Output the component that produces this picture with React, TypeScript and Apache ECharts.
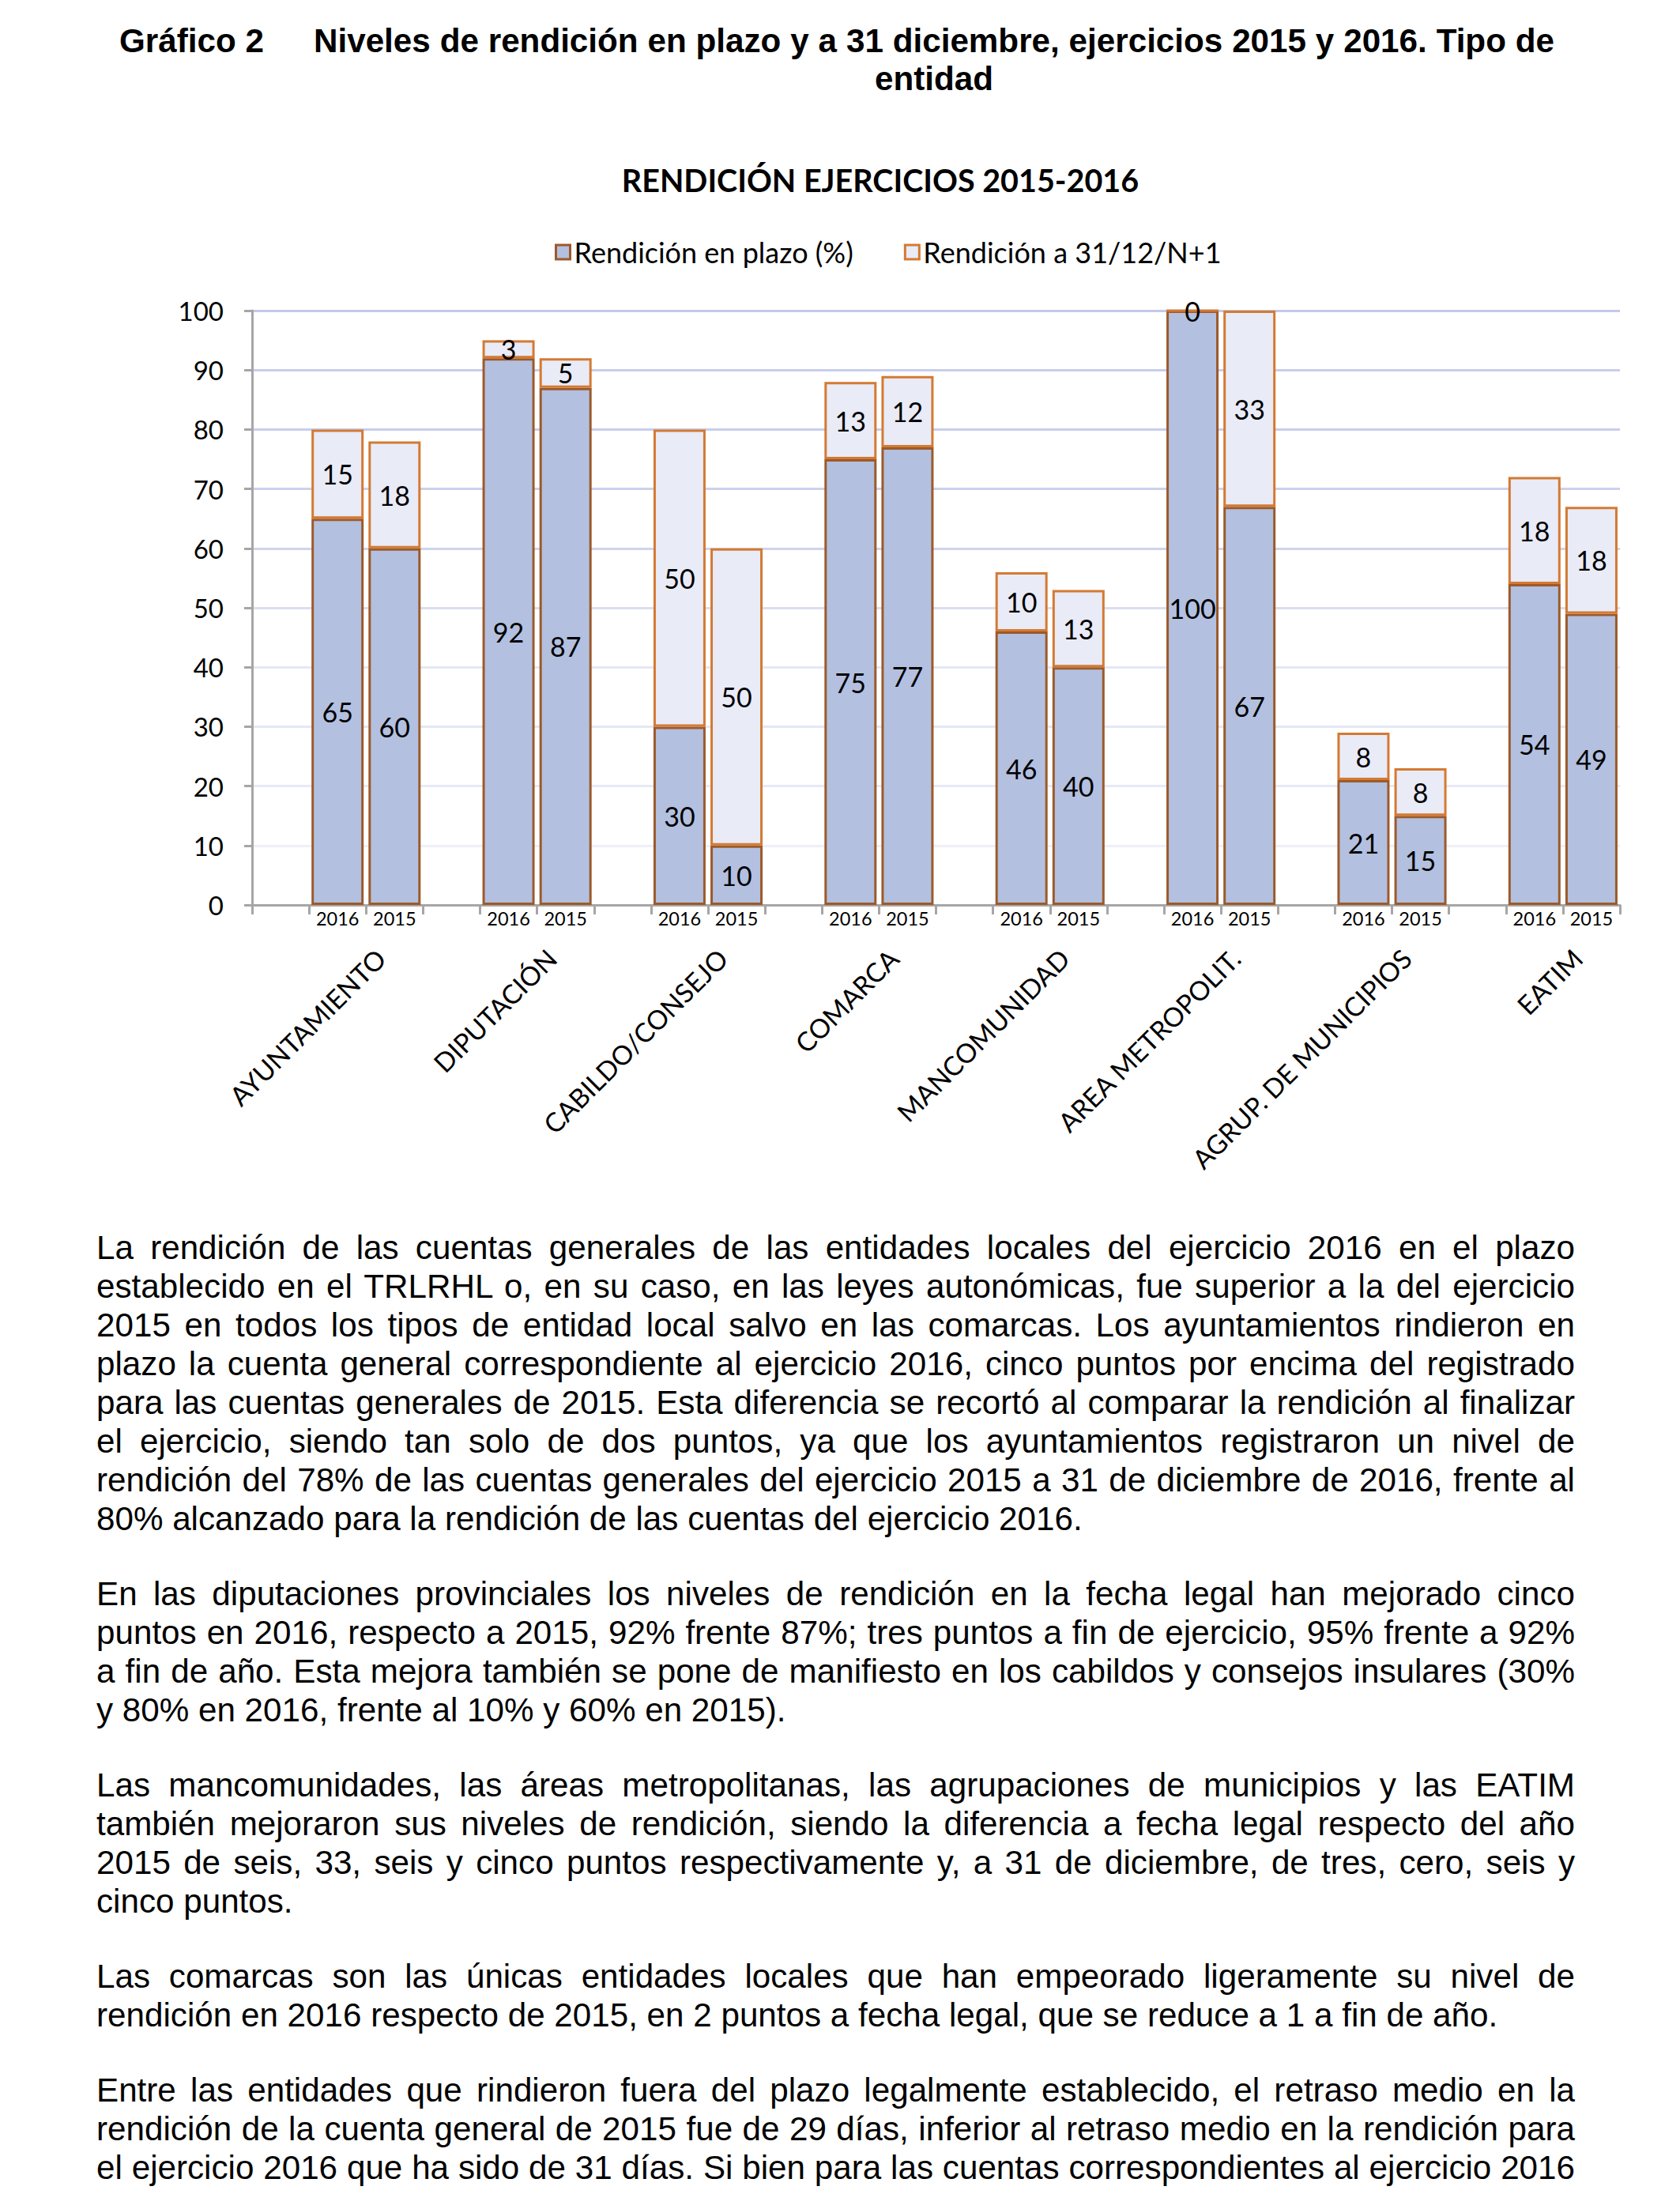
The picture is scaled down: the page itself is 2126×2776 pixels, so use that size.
import React, { useEffect, useRef } from "react";
import * as echarts from "echarts";

// ---------- data ----------
const categories = [
  "AYUNTAMIENTO",
  "DIPUTACIÓN",
  "CABILDO/CONSEJO",
  "COMARCA",
  "MANCOMUNIDAD",
  "AREA METROPOLIT.",
  "AGRUP. DE MUNICIPIOS",
  "EATIM",
];
const years = ["2016", "2015"];
const plazo2016 = [65, 92, 30, 75, 46, 100, 21, 54];
const plazo2015 = [60, 87, 10, 77, 40, 67, 15, 49];
const extra2016 = [15, 3, 50, 13, 10, 0, 8, 18];
const extra2015 = [18, 5, 50, 12, 13, 33, 8, 18];
const seriesNames = ["Rendición en plazo (%)", "Rendición a 31/12/N+1"];
const chartTitle = "RENDICIÓN EJERCICIOS 2015-2016";
const yMin = 0;
const yMax = 100;
const yStep = 10;

// ---------- page text ----------
const headLabel = "Gráfico 2";
const headLine1 =
  "Niveles de rendición en plazo y a 31 diciembre, ejercicios 2015 y 2016. Tipo de";
const headLine2 = "entidad";

const paragraphs: { lines: string[]; continues?: boolean }[] = [
  {
    lines: [
      "La rendición de las cuentas generales de las entidades locales del ejercicio 2016 en el plazo",
      "establecido en el TRLRHL o, en su caso, en las leyes autonómicas, fue superior a la del ejercicio",
      "2015 en todos los tipos de entidad local salvo en las comarcas. Los ayuntamientos rindieron en",
      "plazo la cuenta general correspondiente al ejercicio 2016, cinco puntos por encima del registrado",
      "para las cuentas generales de 2015. Esta diferencia se recortó al comparar la rendición al finalizar",
      "el ejercicio, siendo tan solo de dos puntos, ya que los ayuntamientos registraron un nivel de",
      "rendición del 78% de las cuentas generales del ejercicio 2015 a 31 de diciembre de 2016, frente al",
      "80% alcanzado para la rendición de las cuentas del ejercicio 2016.",
    ],
  },
  {
    lines: [
      "En las diputaciones provinciales los niveles de rendición en la fecha legal han mejorado cinco",
      "puntos en 2016, respecto a 2015, 92% frente 87%; tres puntos a fin de ejercicio, 95% frente a 92%",
      "a fin de año. Esta mejora también se pone de manifiesto en los cabildos y consejos insulares (30%",
      "y 80% en 2016, frente al 10% y 60% en 2015).",
    ],
  },
  {
    lines: [
      "Las mancomunidades, las áreas metropolitanas, las agrupaciones de municipios y las EATIM",
      "también mejoraron sus niveles de rendición, siendo la diferencia a fecha legal respecto del año",
      "2015 de seis, 33, seis y cinco puntos respectivamente y, a 31 de diciembre, de tres, cero, seis y",
      "cinco puntos.",
    ],
  },
  {
    lines: [
      "Las comarcas son las únicas entidades locales que han empeorado ligeramente su nivel de",
      "rendición en 2016 respecto de 2015, en 2 puntos a fecha legal, que se reduce a 1 a fin de año.",
    ],
  },
  {
    lines: [
      "Entre las entidades que rindieron fuera del plazo legalmente establecido, el retraso medio en la",
      "rendición de la cuenta general de 2015 fue de 29 días, inferior al retraso medio en la rendición para",
      "el ejercicio 2016 que ha sido de 31 días. Si bien para las cuentas correspondientes al ejercicio 2016",
    ],
    continues: true,
  },
];

// ---------- derived slot arrays (blank, 2016, 2015 per entity) ----------
const slotYears: string[] = [];
const slotGroups: string[] = [];
const slotPlazo: (number | null)[] = [];
const slotExtra: (number | null)[] = [];
categories.forEach((c, i) => {
  slotYears.push("", years[0], years[1]);
  slotGroups.push("", "", c);
  slotPlazo.push(null, plazo2016[i], plazo2015[i]);
  slotExtra.push(null, extra2016[i], extra2015[i]);
});

const CHART_H = 1520;
const chartFont = "Lato, 'Noto Sans', sans-serif";
const gridColors = [
  "#E9ECF7",
  "#EEF0F9",
  "#E7EAF6",
  "#E4E7F5",
  "#E4E7F5",
  "#DADEF1",
  "#CFD4EE",
  "#CCD1EC",
  "#C8CEEB",
  "#C8CEEB",
  "#C3C9E9",
];

function buildOption(): any {
  const labelStyle = {
    show: true,
    position: "inside",
    color: "#000",
    fontSize: 34,
    fontFamily: chartFont,
  };
  return {
    animation: false,
    backgroundColor: "transparent",
    title: {
      text: chartTitle,
      left: 1109,
      top: 202,
      textAlign: "center",
      textStyle: {
        fontFamily: chartFont,
        fontWeight: "bold",
        fontSize: 39.5,
        color: "#000",
      },
    },
    legend: {
      left: 697,
      top: 296,
      icon: "rect",
      itemWidth: 18,
      itemHeight: 18,
      itemGap: 64,
      itemStyle: { borderWidth: 3 },
      textStyle: { fontFamily: chartFont, fontSize: 36, color: "#000" },
    },
    grid: { left: 319, right: 76, top: 393, bottom: CHART_H - 1145 },
    xAxis: [
      {
        type: "category",
        data: slotYears,
        position: "bottom",
        axisLine: { show: true, lineStyle: { color: "#A6A6A6", width: 3 } },
        axisTick: {
          show: true,
          interval: 0,
          length: 12,
          lineStyle: { color: "#A6A6A6", width: 3 },
        },
        axisLabel: {
          interval: 0,
          margin: 5,
          fontSize: 23.5,
          fontFamily: chartFont,
          color: "#000",
        },
        splitLine: { show: false },
      },
      {
        type: "category",
        data: slotGroups,
        position: "bottom",
        gridIndex: 0,
        axisLine: { show: false },
        axisTick: { show: false },
        splitLine: { show: false },
        axisLabel: {
          interval: 0,
          rotate: 45,
          margin: 44,
          padding: [0, 25, 0, 0],
          fontSize: 33.5,
          fontFamily: chartFont,
          color: "#000",
        },
      },
    ],
    yAxis: {
      type: "value",
      min: yMin,
      max: yMax,
      interval: yStep,
      axisLine: { show: true, lineStyle: { color: "#A6A6A6", width: 3 } },
      axisTick: {
        show: true,
        length: 10,
        lineStyle: { color: "#A6A6A6", width: 3 },
      },
      axisLabel: {
        margin: 36,
        fontSize: 33,
        fontFamily: chartFont,
        color: "#000",
      },
      splitLine: { show: true, lineStyle: { color: gridColors, width: 3 } },
    },
    series: [
      {
        name: seriesNames[0],
        type: "bar",
        stack: "total",
        xAxisIndex: 0,
        data: slotPlazo,
        barWidth: 66,
        itemStyle: { color: "#B3C0E0", borderColor: "#9C5A2A", borderWidth: 3 },
        label: labelStyle,
      },
      {
        name: seriesNames[1],
        type: "bar",
        stack: "total",
        xAxisIndex: 0,
        data: slotExtra,
        barWidth: 66,
        itemStyle: { color: "#E9EBF7", borderColor: "#D47A33", borderWidth: 3 },
        label: labelStyle,
      },
    ],
  };
}

const bodyFont = "'Liberation Sans', Arial, sans-serif";

export default function App() {
  const ref = useRef<HTMLDivElement>(null);
  useEffect(() => {
    if (!ref.current) return;
    const chart = echarts.init(ref.current, null, { renderer: "svg" });
    chart.setOption(buildOption());
    return () => chart.dispose();
  }, []);

  return (
    <div
      style={{
        position: "absolute",
        left: 0,
        top: 0,
        width: 2126,
        height: 2776,
        overflow: "hidden",
        background: "#fff",
        color: "#000",
        fontFamily: bodyFont,
      }}
    >
      <div
        ref={ref}
        style={{ position: "absolute", left: 0, top: 0, width: 2126, height: CHART_H }}
      />
      <div
        style={{
          position: "absolute",
          left: 151,
          top: 28,
          fontSize: 42.2,
          lineHeight: "48px",
          fontWeight: "bold",
        }}
      >
        {headLabel}
      </div>
      <div
        style={{
          position: "absolute",
          left: 397,
          top: 28,
          width: 1570,
          fontSize: 42.2,
          lineHeight: "48px",
          fontWeight: "bold",
        }}
      >
        <div style={{ textAlign: "justify", textAlignLast: "justify" }}>{headLine1}</div>
        <div style={{ textAlign: "center" }}>{headLine2}</div>
      </div>
      <div
        style={{
          position: "absolute",
          left: 122,
          top: 1554,
          width: 1871,
          fontSize: 42.2,
          lineHeight: "49px",
        }}
      >
        {paragraphs.map((p, pi) => (
          <div key={pi} style={{ marginBottom: 46 }}>
            {p.lines.map((l, li) => {
              const isLast = li === p.lines.length - 1 && !p.continues;
              return (
                <div
                  key={li}
                  style={{
                    textAlign: "justify",
                    textAlignLast: isLast ? "left" : "justify",
                  }}
                >
                  {l}
                </div>
              );
            })}
          </div>
        ))}
      </div>
    </div>
  );
}
